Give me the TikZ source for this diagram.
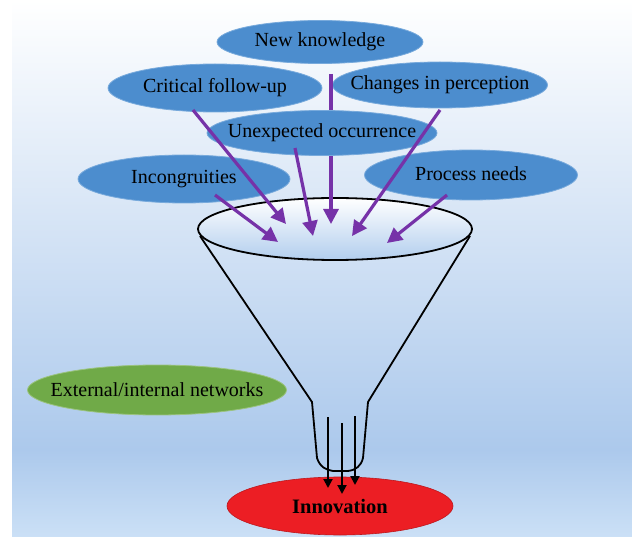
\documentclass[tikz,border=0pt]{standalone}
\usepackage{fontspec}
\setmainfont{Liberation Serif}
\usetikzlibrary{shapes.geometric,arrows.meta}
\definecolor{bgblue}{RGB}{172,201,236}
\definecolor{bglight}{RGB}{203,224,246}
\definecolor{ellblue}{RGB}{76,141,206}
\definecolor{elledge}{RGB}{120,170,220}
\definecolor{arrpurple}{RGB}{118,50,168}
\definecolor{netgreen}{RGB}{112,170,72}
\definecolor{innored}{RGB}{236,30,36}
\definecolor{rimblue}{RGB}{178,206,238}
\begin{document}
\begin{tikzpicture}[x=1pt,y=-1pt,
  bubble/.style={ellipse, fill=ellblue, draw=elledge, line width=0.8pt,
    inner xsep=-45pt, inner ysep=-6pt,
    font=\fontsize{20}{23}\selectfont},
  parr/.style={draw=arrpurple, line width=3.2pt, -{Triangle[length=15pt,width=15pt]}},
  karr/.style={draw=black, line width=2pt, -{Triangle[length=9pt,width=9pt]}},
  funnel/.style={draw=black, line width=1.8pt, line join=round}]
\useasboundingbox (0,0) rectangle (632,537);
\shade[top color=white, bottom color=bgblue] (12,0) rectangle (632,450);
\shade[top color=bgblue, bottom color=bglight] (12,449.5) rectangle (632,537);

% funnel body
\draw[funnel] (200,236) -- (312,402) -- (317,458) .. controls (320,467) and (326,470) .. (333,471)
  -- (348,471) .. controls (356,470) and (361,466) .. (363,458) -- (368,402) -- (470,236);
\node[ellipse, draw=black, line width=1.8pt, top color=white, bottom color=rimblue,
  minimum width=274pt, minimum height=62pt, inner sep=0pt] (rim) at (335,229) {};

% spout arrows and innovation
\node[ellipse, fill=innored, draw=innored!80!black, line width=0.6pt,
  inner xsep=-20pt, inner ysep=-4pt,
  minimum width=226pt, minimum height=58pt, font=\fontsize{20.5}{24}\selectfont\bfseries]
  (inno) at (340,506) {Innovation};
\coordinate (s1) at (328,417);
\coordinate (s2) at (342,423);
\coordinate (s3) at (355,416);
\coordinate (e1) at (328,488);
\coordinate (e2) at (342,494);
\coordinate (e3) at (355,485);
\draw[karr] (s1) -- (e1);
\draw[karr] (s2) -- (e2);
\draw[karr] (s3) -- (e3);

% network node
\node[ellipse, fill=netgreen, draw=netgreen!70!white, line width=0.8pt,
  inner xsep=-50pt, inner ysep=-6pt,
  minimum width=259pt, minimum height=50pt, font=\fontsize{20}{23}\selectfont]
  (net) at (157,390) {External/internal networks};

% top bubbles
\node[bubble, minimum width=206pt, minimum height=43pt] (nk) at (320,42) {New knowledge};
\node[bubble, minimum width=214pt, minimum height=48pt] (cf) at (215,88) {Critical follow-up};
\node[bubble, minimum width=215pt, minimum height=46pt] (cp) at (440,85) {Changes in perception};

% new knowledge arrow (passes behind unexpected occurrence)
\coordinate (nks) at (331,74);
\coordinate (nkt) at (331,224);
\draw[parr] (nks) -- (nkt);

\node[bubble, minimum width=230pt, minimum height=45pt] (uo) at (322,133) {Unexpected occurrence};
\node[bubble, minimum width=212pt, minimum height=48pt] (ic) at (184,179) {Incongruities};
\node[bubble, minimum width=213pt, minimum height=50pt] (pn) at (471,175) {\raisebox{3pt}{Process needs}};

% purple arrows
\coordinate (cfs) at (193,110);
\coordinate (cft) at (286,224);
\coordinate (uos) at (295,148);
\coordinate (uot) at (313,236);
\coordinate (cps) at (440,110);
\coordinate (cpt) at (352,236);
\coordinate (ics) at (215,195);
\coordinate (ict) at (278,242);
\coordinate (pns) at (447,195);
\coordinate (pnt) at (387,243);
\draw[parr] (cfs) -- (cft);
\draw[parr] (uos) -- (uot);
\draw[parr] (cps) -- (cpt);
\draw[parr] (ics) -- (ict);
\draw[parr] (pns) -- (pnt);
\end{tikzpicture}
\end{document}
